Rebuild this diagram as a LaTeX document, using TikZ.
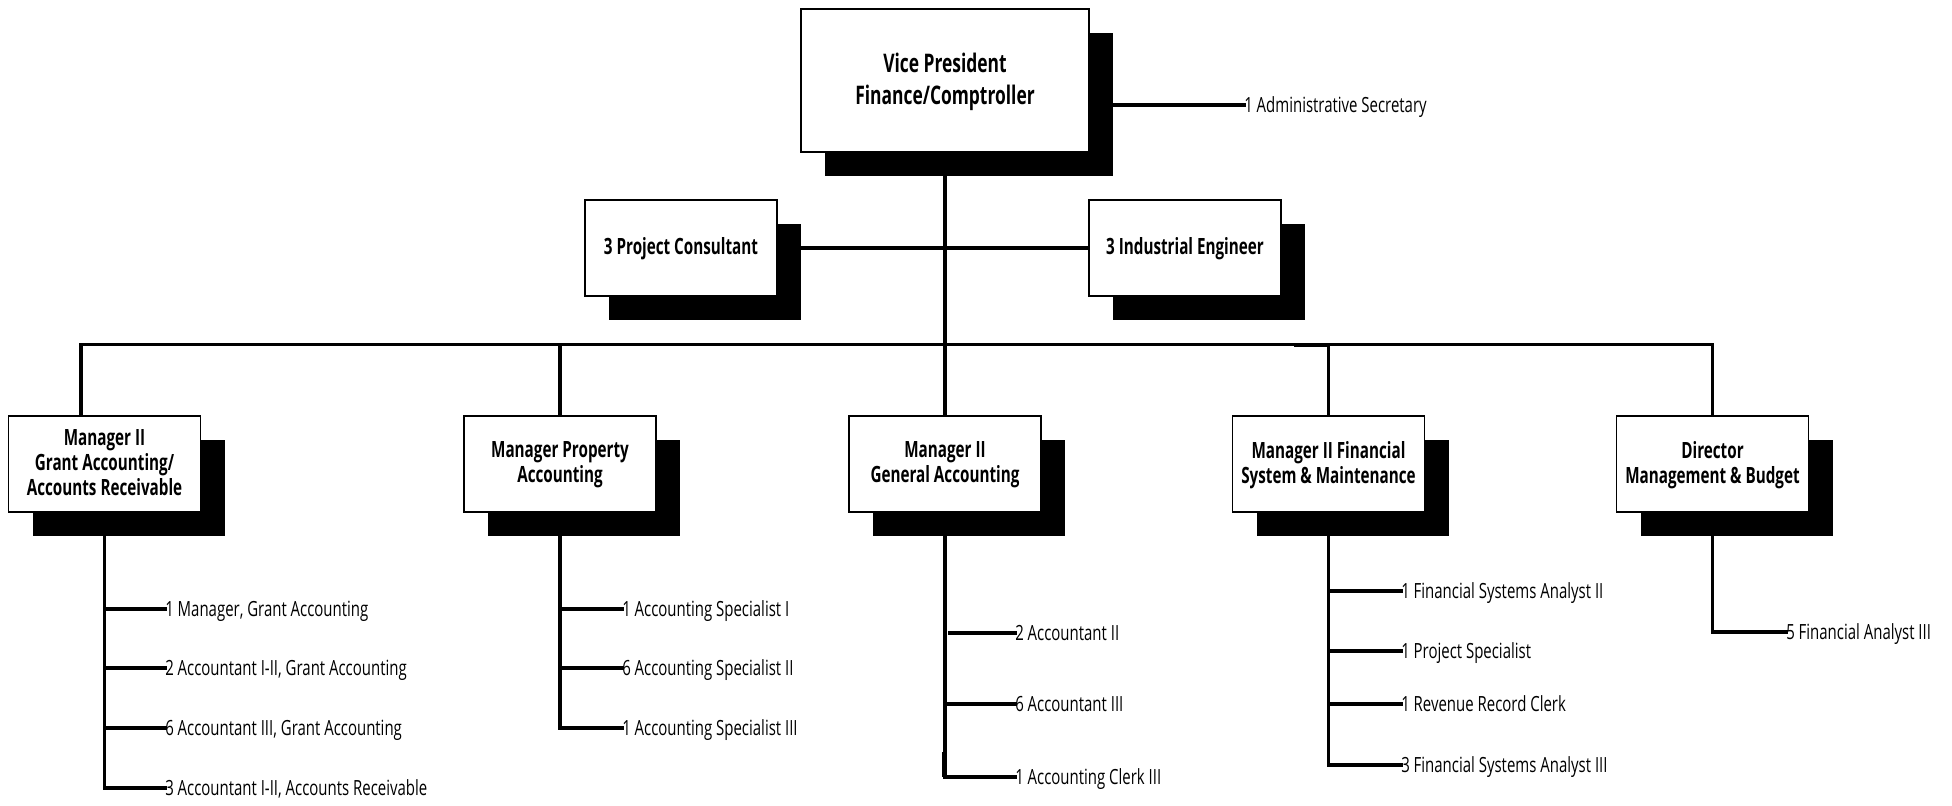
\documentclass[tikz,border=0pt]{standalone}
\usepackage{fontspec}
\usetikzlibrary{shadows}
\newfontfamily\stafffont[FakeStretch=0.715]{Open Sans}
\newfontfamily\titlefont[FakeStretch=0.68]{Open Sans}

\tikzset{
  conn/.style={line width=2.5pt, line cap=rect},
  orgbox/.style={draw, line width=1.3pt, fill=white, inner sep=0pt, align=center,
    minimum width=144pt, minimum height=72pt, text depth=2.5pt,
    font=\titlefont\bfseries\fontsize{16.8}{18.75}\selectfont,
    drop shadow={shadow xshift=18pt, shadow yshift=-18pt, opacity=1, fill=black}},
  topbox/.style={orgbox, minimum width=216pt, minimum height=107.25pt, text depth=3pt,
    font=\titlefont\bfseries\fontsize{19.2}{23.8}\selectfont},
  staff/.style={anchor=west, inner sep=0pt, text height=11.25pt, text depth=0pt,
    font=\stafffont\fontsize{15.7}{18}\selectfont}
}

\begin{document}
\begin{tikzpicture}[x=0.75pt, y=-0.75pt]
\useasboundingbox (0,0) rectangle (1952,806);

% boxes
\node[topbox] (vp) at (945,80.5) {Vice President\\Finance/Comptroller};
\node[orgbox] (pc) at (681,248) {3 Project Consultant};
\node[orgbox] (ie) at (1185,248) {3 Industrial Engineer};
\node[orgbox] (ga) at (104.5,464) {Manager II\\Grant Accounting/\\Accounts Receivable};
\node[orgbox] (pa) at (560,464) {Manager Property\\Accounting};
\node[orgbox] (gen) at (945,464) {Manager II\\General Accounting};
\node[orgbox] (fsm) at (1328.5,464) {Manager II Financial\\System \& Maintenance};
\node[orgbox] (dir) at (1712.5,464) {Director\\Management \& Budget};

% staff labels
\node[staff] (adm) at (1244,105) {1 Administrative Secretary};

\node[staff] (ga1) at (165,609) {1 Manager, Grant Accounting};
\node[staff] (ga2) at (165,668) {2 Accountant I-II, Grant Accounting};
\node[staff] (ga3) at (165,728) {6 Accountant III, Grant Accounting};
\node[staff] (ga4) at (165,788) {3 Accountant I-II, Accounts Receivable};

\node[staff] (pa1) at (622,609) {1 Accounting Specialist I};
\node[staff] (pa2) at (622,668) {6 Accounting Specialist II};
\node[staff] (pa3) at (622,728) {1 Accounting Specialist III};

\node[staff] (gen1) at (1015,633) {2 Accountant II};
\node[staff] (gen2) at (1015,704) {6 Accountant III};
\node[staff] (gen3) at (1015,777) {1 Accounting Clerk III};

\node[staff] (fsm1) at (1401,591) {1 Financial Systems Analyst II};
\node[staff] (fsm2) at (1401,651) {1 Project Specialist};
\node[staff] (fsm3) at (1401,704) {1 Revenue Record Clerk};
\node[staff] (fsm4) at (1401,765) {3 Financial Systems Analyst III};

\node[staff] (dir1) at (1786,632) {5 Financial Analyst III};

% bus junctions
\coordinate (busga) at (81,344.6);
\coordinate (busmid) at (945,344.6);
\coordinate (busdir) at (1712.5,344.6);

% top level connectors
\draw[conn] (vp.south) -- (busmid);
\draw[conn] (vp.east |- adm.west) -- (adm.west);
\draw[conn] (pc.east) -- (ie.west);
\draw[conn] (busga) -- (busdir);
\draw[conn] (busga) -- (busga |- ga.north);
\draw[conn] (pa.north |- busga) -- (pa.north);
\draw[conn] (busmid) -- (gen.north);
\draw[conn] (fsm.north |- busga) -- (fsm.north);
\draw[conn] (busdir) -- (dir.north);
\draw[line width=3.2pt] (1294,344.7) -- (1329,344.7);

% staff connectors
\draw[conn] (ga.south) -- (ga.south |- ga4.west) -- (ga4.west);
\foreach \s in {ga1,ga2,ga3} \draw[conn] (ga.south |- \s.west) -- (\s.west);

\draw[conn] (pa.south) -- (pa.south |- pa3.west) -- (pa3.west);
\foreach \s in {pa1,pa2} \draw[conn] (pa.south |- \s.west) -- (\s.west);

\draw[conn] (gen.south) -- (gen.south |- gen3.west) -- (gen3.west);
\draw[conn] (gen2.west -| gen.south) -- (gen2.west);
\draw[conn] ([xshift=3.75pt]gen.south |- gen1.west) -- (gen1.west);
\draw[line width=3.2pt] ([xshift=-0.6pt]gen.south |- 0,752) -- ([xshift=-0.6pt]gen.south |- gen3.west);

\draw[conn] (fsm.south) -- (fsm.south |- fsm4.west) -- (fsm4.west);
\foreach \s in {fsm1,fsm2,fsm3} \draw[conn] (fsm.south |- \s.west) -- (\s.west);

\draw[conn] (dir.south) -- (dir.south |- dir1.west) -- (dir1.west);
\end{tikzpicture}
\end{document}
